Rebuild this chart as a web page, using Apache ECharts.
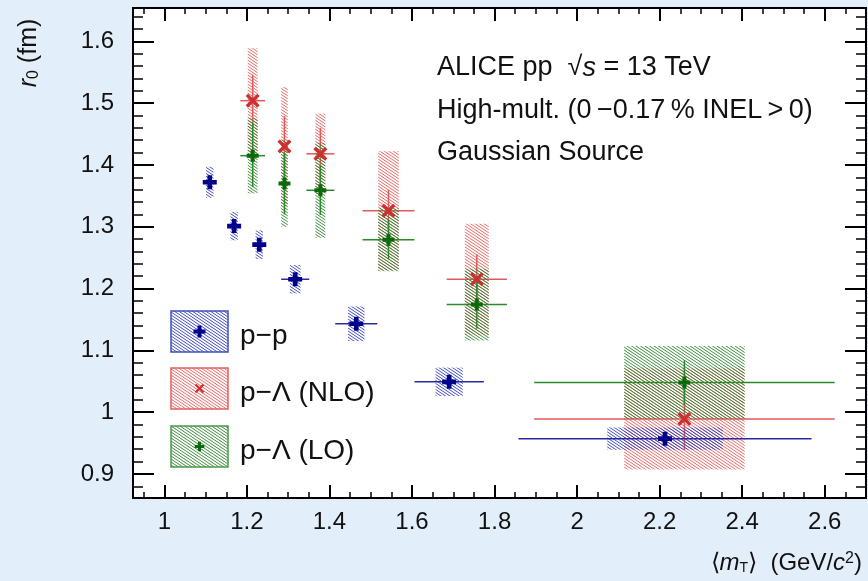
<!DOCTYPE html>
<html>
<head>
<meta charset="utf-8">
<script src="https://cdn.jsdelivr.net/npm/echarts@6/dist/echarts.min.js"></script>
<style>
  html, body { margin: 0; padding: 0; background: #e3eefb; }
  #main { width: 868px; height: 581px; }
</style>
</head>
<body>
<div id="main"></div>
<script>
// p-p
var ppX     = [1.110, 1.169, 1.230, 1.317, 1.465, 1.690, 2.213];
var ppY     = [1.372, 1.301, 1.271, 1.215, 1.143, 1.049, 0.957];
var ppXStat = [0, 0, 0, 0.034, 0.051, 0.084, 0.355];
var ppYStat = [0.004, 0.004, 0.004, 0.004, 0.004, 0.004, 0.004];
var ppXSys  = [0.009, 0.009, 0.009, 0.013, 0.020, 0.033, 0.140];
var ppYSys  = [0.025, 0.023, 0.023, 0.023, 0.028, 0.023, 0.018];

// p-Lambda NLO
var nloX     = [1.214, 1.291, 1.378, 1.543, 1.757, 2.260];
var nloY     = [1.504, 1.430, 1.418, 1.326, 1.215, 0.989];
var nloXStat = [0.030, 0, 0.034, 0.063, 0.073, 0.364];
var nloYStat = [0.042, 0.049, 0.042, 0.034, 0.040, 0.050];
var nloXSys  = [0.012, 0.008, 0.012, 0.025, 0.029, 0.146];
var nloYSys  = [0.085, 0.096, 0.065, 0.096, 0.090, 0.082];

// p-Lambda LO
var loX     = [1.214, 1.291, 1.378, 1.543, 1.757, 2.260];
var loY     = [1.415, 1.370, 1.359, 1.279, 1.174, 1.048];
var loXStat = [0.030, 0, 0.034, 0.063, 0.073, 0.364];
var loYStat = [0.051, 0.050, 0.040, 0.032, 0.039, 0.036];
var loXSys  = [0.012, 0.008, 0.012, 0.025, 0.029, 0.146];
var loYSys  = [0.061, 0.070, 0.077, 0.051, 0.058, 0.059];

var xTicks = [1, 1.2, 1.4, 1.6, 1.8, 2, 2.2, 2.4, 2.6];
var yTicks = [0.9, 1, 1.1, 1.2, 1.3, 1.4, 1.5, 1.6];

// axis ranges (main frame) and the sub-grids used only for minor ticks
var X_MIN = 0.924, X_MAX = 2.70, Y_MIN = 0.861, Y_MAX = 1.654;
var G = { left: 133, right: 2, top: 8, bottom: 83 };
var W = 868 - G.left - G.right, H = 581 - G.top - G.bottom;
var pxX = W / (X_MAX - X_MIN), pxY = H / (Y_MAX - Y_MIN);
var XM_MIN = 0.95, YM_MIN = 0.88, YM_MAX = 1.64;

var FONT = '"Liberation Sans", Arial, sans-serif';

function hatch(color) {
  var c = document.createElement('canvas');
  c.width = 9; c.height = 6;
  var ctx = c.getContext('2d');
  ctx.strokeStyle = color;
  ctx.lineWidth = 1;
  ctx.beginPath();
  [-6, -3, 0, 3, 6, 9].forEach(function (k) {
    ctx.moveTo(-1, k - 2 / 3);
    ctx.lineTo(10, k + 20 / 3);
  });
  ctx.stroke();
  return { image: c, repeat: 'repeat' };
}

var blueHatch = hatch('rgba(50,60,190,0.9)');
var redHatch = hatch('rgba(228,90,90,0.9)');
var greenHatch = hatch('rgba(45,130,45,0.9)');

function pack(xs, ys, xe, ye, sx, sy) {
  return xs.map(function (x, k) { return [x, ys[k], xe[k], ye[k], sx[k], sy[k]]; });
}

function render(pattern, lineColor) {
  return function (params, api) {
    var x = api.value(0), y = api.value(1);
    var xe = api.value(2), ye = api.value(3), sx = api.value(4), sy = api.value(5);
    var tl = api.coord([x - sx, y + sy]);
    var br = api.coord([x + sx, y - sy]);
    var l = api.coord([x - xe, y]), r = api.coord([x + xe, y]);
    var t = api.coord([x, y + ye]), b = api.coord([x, y - ye]);
    var kids = [{
      type: 'rect',
      shape: { x: tl[0], y: tl[1], width: br[0] - tl[0], height: br[1] - tl[1] },
      style: { fill: pattern }
    }];
    if (xe > 0) kids.push({ type: 'line', shape: { x1: l[0], y1: l[1], x2: r[0], y2: r[1] },
      style: { stroke: lineColor, lineWidth: 1.5 } });
    if (ye > 0) kids.push({ type: 'line', shape: { x1: t[0], y1: t[1], x2: b[0], y2: b[1] },
      style: { stroke: lineColor, lineWidth: 1.5 } });
    return { type: 'group', children: kids };
  };
}

var plusPath = 'path://M-1,-3H1V-1H3V1H1V3H-1V1H-3V-1H-1Z';
var crossPath = 'path://M-3,-2L-2,-3L0,-1L2,-3L3,-2L1,0L3,2L2,3L0,1L-2,3L-3,2L-1,0Z';
var plusPts = [[-1,-3],[1,-3],[1,-1],[3,-1],[3,1],[1,1],[1,3],[-1,3],[-1,1],[-3,1],[-3,-1],[-1,-1]];
var crossPts = [[-3,-2],[-2,-3],[0,-1],[2,-3],[3,-2],[1,0],[3,2],[2,3],[0,1],[-2,3],[-3,2],[-1,0]];

function fmt(v) { return String(+v.toFixed(1)); }

function mainX(pos) {
  return {
    type: 'value', gridIndex: 0, min: X_MIN, max: X_MAX, position: pos,
    axisLine: { show: true, onZero: false, lineStyle: { color: '#000', width: 2 } },
    axisTick: { show: true, inside: true, length: 13, customValues: xTicks,
      lineStyle: { color: '#000', width: 2 } },
    axisLabel: { show: pos === 'bottom', customValues: xTicks, margin: 12,
      fontSize: 24, fontFamily: FONT, color: '#111', formatter: fmt },
    splitLine: { show: false }
  };
}
function mainY(pos) {
  return {
    type: 'value', gridIndex: 0, min: Y_MIN, max: Y_MAX, position: pos,
    axisLine: { show: true, onZero: false, lineStyle: { color: '#000', width: 2 } },
    axisTick: { show: true, inside: true, length: 21, customValues: yTicks,
      lineStyle: { color: '#000', width: 2 } },
    axisLabel: { show: pos === 'left', customValues: yTicks, margin: 19,
      fontSize: 24, fontFamily: FONT, color: '#111', formatter: fmt },
    splitLine: { show: false }
  };
}
function minorX(pos) {
  return {
    type: 'value', gridIndex: 1, min: XM_MIN, max: X_MAX, interval: 0.05, position: pos,
    axisLine: { show: false, onZero: false },
    axisTick: { show: true, inside: true, length: 6, lineStyle: { color: '#000', width: 1.5 } },
    axisLabel: { show: false }, splitLine: { show: false }
  };
}
function minorY(pos) {
  return {
    type: 'value', gridIndex: 2, min: YM_MIN, max: YM_MAX, interval: 0.02, position: pos,
    axisLine: { show: false, onZero: false },
    axisTick: { show: true, inside: true, length: 10, lineStyle: { color: '#000', width: 1.5 } },
    axisLabel: { show: false }, splitLine: { show: false }
  };
}
function hidden(grid) {
  return { type: 'value', gridIndex: grid, show: false, min: 0, max: 1 };
}

function legendEntry(y, pattern, border, pts, scale, symColor, label) {
  return [
    { type: 'rect', shape: { x: 171, y: y, width: 57, height: 41 },
      style: { fill: pattern, stroke: border, lineWidth: 1.5 }, z: 10 },
    { type: 'polygon', shape: { points: pts }, x: 199.5, y: y + 20.5, scaleX: scale, scaleY: scale,
      style: { fill: symColor }, z: 11 },
    { type: 'text', x: 240, y: y + 25, z: 10,
      style: { text: label, font: '28px ' + FONT, fill: '#111', textVerticalAlign: 'middle' } }
  ];
}

var myChart = echarts.init(document.getElementById('main'));

var option = {
  animation: false,
  backgroundColor: '#e3eefb',
  grid: [
    { left: G.left, right: G.right, top: G.top, bottom: G.bottom, show: true, backgroundColor: '#fff', borderWidth: 0 },
    { left: G.left + (XM_MIN - X_MIN) * pxX, right: G.right, top: G.top, bottom: G.bottom },
    { left: G.left, right: G.right, top: G.top + (Y_MAX - YM_MAX) * pxY, bottom: G.bottom + (YM_MIN - Y_MIN) * pxY }
  ],
  xAxis: [mainX('bottom'), mainX('top'), minorX('bottom'), minorX('top'), hidden(2)],
  yAxis: [mainY('left'), mainY('right'), minorY('left'), minorY('right'), hidden(1)],
  series: [
    { type: 'custom', name: 'p-Λ (NLO)', renderItem: render(redHatch, '#e05a5a'),
      data: pack(nloX, nloY, nloXStat, nloYStat, nloXSys, nloYSys), encode: { x: 0, y: 1 } },
    { type: 'custom', name: 'p-Λ (LO)', renderItem: render(greenHatch, '#2a8a2a'),
      data: pack(loX, loY, loXStat, loYStat, loXSys, loYSys), encode: { x: 0, y: 1 } },
    { type: 'custom', name: 'p-p', renderItem: render(blueHatch, '#2a2aa0'),
      data: pack(ppX, ppY, ppXStat, ppYStat, ppXSys, ppYSys), encode: { x: 0, y: 1 } },
    { type: 'scatter', symbol: crossPath, symbolSize: 14, itemStyle: { color: '#cc3030', opacity: 1 }, z: 5,
      data: nloX.map(function (x, k) { return [x, nloY[k]]; }) },
    { type: 'scatter', symbol: plusPath, symbolSize: 12, itemStyle: { color: '#0b6b0b', opacity: 1 }, z: 5,
      data: loX.map(function (x, k) { return [x, loY[k]]; }) },
    { type: 'scatter', symbol: plusPath, symbolSize: 14, itemStyle: { color: '#00008b', opacity: 1 }, z: 5,
      data: ppX.map(function (x, k) { return [x, ppY[k]]; }) }
  ],
  graphic: [].concat(
    legendEntry(311, blueHatch, '#4050b8', plusPts, 2.0, '#00008b', 'p\u2212p'),
    legendEntry(368, redHatch, '#e06060', crossPts, 1.6, '#cc3030', 'p\u2212\u039B (NLO)'),
    legendEntry(426, greenHatch, '#4a9a4a', plusPts, 1.6, '#0b6b0b', 'p\u2212\u039B (LO)'),
    [
      { type: 'text', x: 437, y: 68, z: 10, style: { text: 'ALICE pp  \u221A{i|s} = 13 TeV', font: '27px ' + FONT, fill: '#111',
        textVerticalAlign: 'middle', rich: { i: { fontStyle: 'italic', fontSize: 27, fontFamily: FONT } } } },
      { type: 'text', x: 437, y: 111, z: 10, style: { text: 'High-mult. (0\u2009\u22120.17\u2009% INEL\u2009>\u20090)', font: '27px ' + FONT, fill: '#111',
        textVerticalAlign: 'middle' } },
      { type: 'text', x: 437, y: 153, z: 10, style: { text: 'Gaussian Source', font: '27px ' + FONT, fill: '#111',
        textVerticalAlign: 'middle' } },
      { type: 'text', x: 29, y: 53, rotation: Math.PI / 2, z: 10,
        style: { text: '{i|r}{sub|0} (fm)', font: '25px ' + FONT, fill: '#111', textAlign: 'center', textVerticalAlign: 'middle',
          rich: { i: { fontStyle: 'italic', fontSize: 25, fontFamily: FONT }, sub: { fontSize: 16, fontFamily: FONT, verticalAlign: 'bottom', lineHeight: 12 } } } },
      { type: 'text', x: 862, y: 563, z: 10,
        style: { text: '\u27E8{i|m}{sub|T}\u27E9  (GeV/{i|c}{sup|2})', font: '24px ' + FONT, fill: '#111', textAlign: 'right', textVerticalAlign: 'middle',
          rich: { i: { fontStyle: 'italic', fontSize: 24, fontFamily: FONT },
                  sub: { fontSize: 14, fontFamily: FONT, verticalAlign: 'bottom', lineHeight: 6 },
                  sup: { fontSize: 16, fontFamily: FONT, verticalAlign: 'top', lineHeight: 14 } } } }
    ]
  )
};

myChart.setOption(option);
</script>
</body>
</html>
